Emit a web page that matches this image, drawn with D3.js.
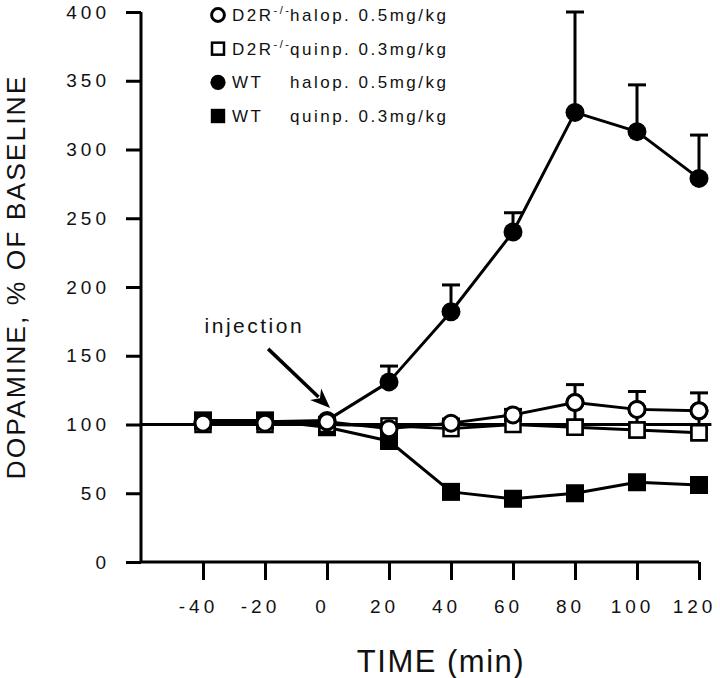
<!DOCTYPE html>
<html><head><meta charset="utf-8">
<script src="https://cdn.jsdelivr.net/npm/d3@7/dist/d3.min.js"></script>
<style>body{margin:0;background:#fff}svg{display:block}</style>
</head><body>
<script>
const time = [-40, -20, 0, 20, 40, 60, 80, 100, 120];
const d2rHalop = [101, 101, 102, 97, 101, 107, 116, 111, 110];
const d2rHalopErr = [2, 2, 2, 2, 3, 4, 13, 13, 13];
const d2rQuinp = [100, 100, 100, 99, 97, 100, 98, 96, 94];
const wtHalop = [101, 102, 103, 131, 182, 240, 327, 313, 279];
const wtHalopErr = [2, 2, 2, 11.5, 19.5, 14, 73, 34, 31.5];
const wtQuinp = [103, 103, 98, 88, 51, 46, 50, 58, 56];
const xTicks = [-40, -20, 0, 20, 40, 60, 80, 100, 120];
const yTicks = [0, 50, 100, 150, 200, 250, 300, 350, 400];
const legendGroups = ["D2R", "D2R", "WT", "WT"];
const legendSup = ["-/-", "-/-", "", ""];
const legendDrug = ["halop. 0.5mg/kg", "quinp. 0.3mg/kg", "halop. 0.5mg/kg", "quinp. 0.3mg/kg"];
const legendSymbol = ["openCircle", "openSquare", "filledCircle", "filledSquare"];
const baselineValue = 100;

const W = 720, H = 678;
const FONT = "'Liberation Sans', Arial, Helvetica, sans-serif";
const svg = d3.select("body").append("svg").attr("width", W).attr("height", H);

const x = d3.scaleLinear().domain([-60, 120]).range([141, 699]);
const y = d3.scaleLinear().domain([0, 400]).range([562, 12]);

// axes
const yAxis = svg.append("g").attr("transform", `translate(${x(-60)},0)`)
  .call(d3.axisLeft(y).tickValues(yTicks).tickSize(15).tickPadding(16));
const xAxis = svg.append("g").attr("transform", `translate(0,${y(0)})`)
  .call(d3.axisBottom(x).tickValues(xTicks).tickSize(18).tickPadding(20)
    .tickFormat(d => String(d)));
[xAxis, yAxis].forEach(g => {
  g.select(".domain").attr("stroke", "#000").attr("stroke-width", 3);
  g.selectAll(".tick line").attr("stroke", "#000").attr("stroke-width", 3);
  g.selectAll(".tick text").attr("font-family", FONT).attr("font-size", 19)
    .attr("fill", "#111").style("letter-spacing", "4px");
});
yAxis.select(".domain").attr("d", `M0,${y(0)}V${y(400)}`);
xAxis.select(".domain").attr("d", `M${x(-60)},0H${x(120)}`);
xAxis.selectAll(".tick text").attr("dx", -5);

// axis titles
svg.append("text").attr("transform", `translate(25,${277}) rotate(-90)`)
  .attr("text-anchor", "middle").attr("font-family", FONT).attr("font-size", 26.5)
  .style("letter-spacing", "2px").attr("fill", "#111").text("DOPAMINE, % OF BASELINE");
svg.append("text").attr("x", 441).attr("y", 672).attr("text-anchor", "middle")
  .attr("font-family", FONT).attr("font-size", 31).style("letter-spacing", "1.5px")
  .attr("fill", "#111").text("TIME (min)");

// baseline reference line
svg.append("line").attr("x1", x(-60)).attr("x2", x(124)).attr("y1", y(baselineValue)).attr("y2", y(baselineValue))
  .attr("stroke", "#000").attr("stroke-width", 3);

const series = [
  {vals: wtQuinp, sym: "filledSquare"},
  {vals: d2rQuinp, sym: "openSquare"},
  {vals: wtHalop, sym: "filledCircle", err: wtHalopErr, up: true},
  {vals: d2rHalop, sym: "openCircle", err: d2rHalopErr, up: false},
];
const line = d3.line().x((d, i) => x(time[i])).y(d => y(d));
series.forEach(s => {
  svg.append("path").attr("d", line(s.vals)).attr("fill", "none")
    .attr("stroke", "#000").attr("stroke-width", 3).attr("stroke-linejoin", "round");
});
// error bars
series.filter(s => s.err).forEach(s => {
  const g = svg.append("g").attr("stroke", "#000").attr("stroke-width", 3);
  s.vals.forEach((v, i) => {
    const hi = v + s.err[i], lo = s.up ? v : v - s.err[i];
    g.append("line").attr("x1", x(time[i])).attr("x2", x(time[i])).attr("y1", y(lo)).attr("y2", y(hi));
    g.append("line").attr("x1", x(time[i]) - 9).attr("x2", x(time[i]) + 9).attr("y1", y(hi)).attr("y2", y(hi));
    if (!s.up) g.append("line").attr("x1", x(time[i]) - 9).attr("x2", x(time[i]) + 9).attr("y1", y(lo)).attr("y2", y(lo));
  });
});

function drawSymbol(g, sym, cx, cy, scale) {
  const k = scale || 1;
  if (sym === "filledCircle") g.append("circle").attr("cx", cx).attr("cy", cy).attr("r", 9.5 * k).attr("fill", "#000");
  if (sym === "openCircle") g.append("circle").attr("cx", cx).attr("cy", cy).attr("r", 8 * k).attr("fill", "#fff").attr("stroke", "#000").attr("stroke-width", 3);
  if (sym === "filledSquare") g.append("rect").attr("x", cx - 9 * k).attr("y", cy - 9 * k).attr("width", 18 * k).attr("height", 18 * k).attr("fill", "#000");
  if (sym === "openSquare") g.append("rect").attr("x", cx - 7.5 * k).attr("y", cy - 7.5 * k).attr("width", 15 * k).attr("height", 15 * k).attr("fill", "#fff").attr("stroke", "#000").attr("stroke-width", 2.5);
}
// markers: WT quinp, D2R quinp, WT halop, D2R halop
series.forEach(s => {
  const g = svg.append("g");
  s.vals.forEach((v, i) => drawSymbol(g, s.sym, x(time[i]), y(v)));
});
// re-draw D2R quinp squares over the lower part of D2R halop error bars
{
  const g = svg.append("g");
  d2rQuinp.forEach((v, i) => { if (time[i] >= 80) drawSymbol(g, "openSquare", x(time[i]), y(v)); });
  d2rHalop.forEach((v, i) => { if (time[i] >= 80) drawSymbol(g, "openCircle", x(time[i]), y(v)); });
}

// legend
const lg = svg.append("g");
const rowY = d3.scaleLinear().domain([0, 3]).range([15, 116]);
legendDrug.forEach((d, i) => {
  const cy = rowY(i);
  drawSymbol(lg, legendSymbol[i], 218, cy, 0.8);
  const t = lg.append("text").attr("x", 232).attr("y", cy + 6).attr("font-family", FONT)
    .attr("font-size", 17).style("letter-spacing", "2.5px").attr("fill", "#111");
  t.append("tspan").text(legendGroups[i]);
  if (legendSup[i]) t.append("tspan").attr("font-size", 11).attr("dy", -7).text(legendSup[i]);
  lg.append("text").attr("x", 290).attr("y", cy + 6).attr("font-family", FONT)
    .attr("font-size", 17).style("letter-spacing", "2.5px").attr("fill", "#111").text(d);
});

// injection annotation
svg.append("text").attr("x", x(-39.5)).attr("y", y(166.5)).attr("font-family", FONT)
  .attr("font-size", 21).style("letter-spacing", "2.5px").attr("fill", "#111").text("injection");
const a0 = [x(-19), y(155)], a1 = [x(1), y(112)];
const ang = Math.atan2(a1[1] - a0[1], a1[0] - a0[0]);
const hl = 20, hw = 8;
const base = [a1[0] - hl * Math.cos(ang), a1[1] - hl * Math.sin(ang)];
svg.append("line").attr("x1", a0[0]).attr("y1", a0[1]).attr("x2", base[0] + 4 * Math.cos(ang)).attr("y2", base[1] + 4 * Math.sin(ang))
  .attr("stroke", "#000").attr("stroke-width", 3.5);
svg.append("path").attr("d", `M${a1[0]},${a1[1]}L${base[0] + hw * Math.sin(ang)},${base[1] - hw * Math.cos(ang)}L${base[0] + 6 * Math.cos(ang)},${base[1] + 6 * Math.sin(ang)}L${base[0] - hw * Math.sin(ang)},${base[1] + hw * Math.cos(ang)}Z`)
  .attr("fill", "#000");
</script>
</body></html>
